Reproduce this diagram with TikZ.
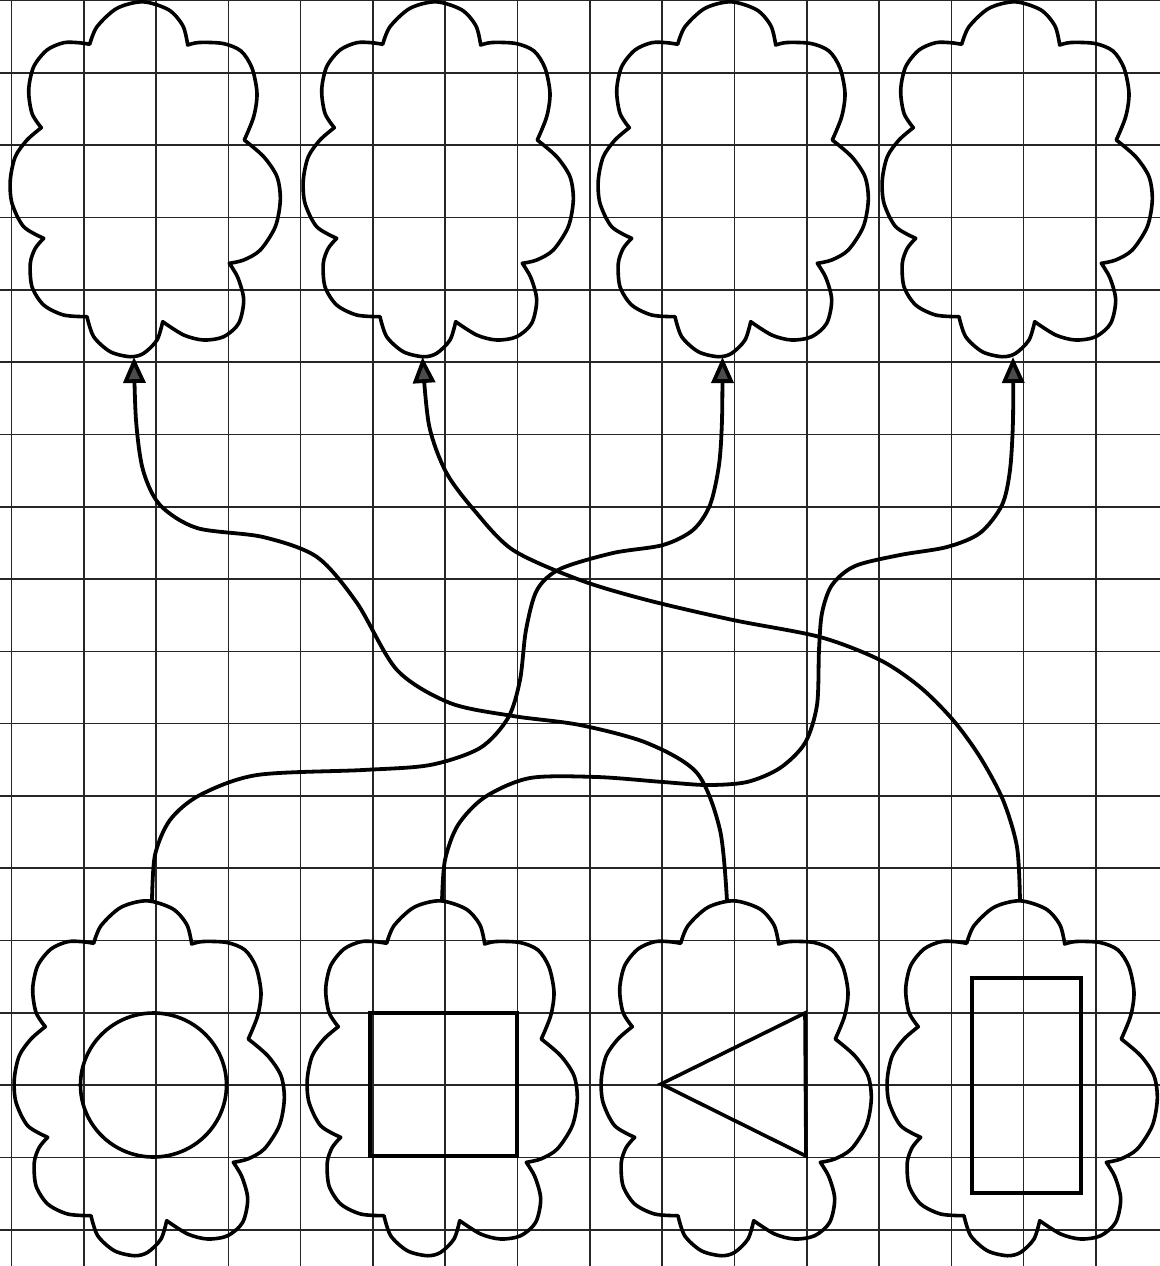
\documentclass[tikz,border=0pt]{standalone}
\usetikzlibrary{arrows.meta}
\tikzset{
  gridline/.style={line width=0.8pt, draw=black!85},
  cloudline/.style={line width=1.8pt, line join=round, draw=black},
  shapeline/.style={line width=1.8pt, line join=miter, draw=black},
  conn/.style={line width=1.9pt, draw=black, -{Triangle[length=13pt,width=11pt,fill=black!70]}},
  puffcloud/.pic={
    \draw[cloudline]
      plot[smooth] coordinates {(80.7,44.3) (88,26.7) (108,8.3) (134,1.8) (160,10) (174,26) (178.7,45)}
      -- plot[smooth] coordinates {(178.7,45) (190,42.5) (214,43.5) (232,51) (243,68) (248,93.3) (244.7,116.7) (235.3,140)}
      -- plot[smooth] coordinates {(235.3,140) (254.7,156.7) (268,176.7) (271.3,200) (266.3,226.7) (251.3,250) (234.7,260) (220.3,263.3)}
      -- plot[smooth] coordinates {(220.3,263.3) (229,278) (234.7,300) (229.7,323.3) (214.7,336.7) (194.7,340) (174.7,335) (153.7,321.7)}
      -- plot[smooth] coordinates {(153.7,321.7) (148,340) (134.7,353.3) (121.3,356.7) (101.3,351.7) (84.7,336.7) (78,316.7)}
      -- plot[smooth] coordinates {(78,316.7) (54.7,315) (34.7,305) (23,286.7) (21.3,263.3) (26.3,248.3) (34.7,238.3)}
      -- plot[smooth] coordinates {(34.7,238.3) (14.7,226.7) (3,203.3) (1.3,180) (6.3,156.7) (18,140) (32.3,127.7)}
      -- plot[smooth] coordinates {(32.3,127.7) (23,113.3) (19.7,90) (24.7,66.7) (38,50) (54.7,42.7) (69.7,42.7) (80.7,44.3)}
      -- cycle;
  }
}
\begin{document}
\begin{tikzpicture}[x=0.5pt,y=-0.5pt]
  \fill[white] (0,0) rectangle (1160,1266);
  \useasboundingbox (0,0) rectangle (1160,1266);
  % grid
  \foreach \k in {0,...,15} {
    \draw[gridline] ({11.4+72.3*\k},0) -- ({11.4+72.3*\k},1266);
  }
  \foreach \k in {0,...,17} {
    \draw[gridline] (0,{0.6+72.3*\k}) -- (1160,{0.6+72.3*\k});
  }
  % top clouds
  \pic at (9,0) {puffcloud};
  \pic at (302,0) {puffcloud};
  \pic at (597,0) {puffcloud};
  \pic at (881,0) {puffcloud};
  % bottom clouds
  \pic at (13,899) {puffcloud};
  \pic at (306,899) {puffcloud};
  \pic at (600,899) {puffcloud};
  \pic at (886,899) {puffcloud};
  % figures inside bottom clouds
  \draw[shapeline] (153.5,1085) ellipse [x radius=73, y radius=72];
  \draw[shapeline] (370,1013) rectangle (517,1156);
  \draw[shapeline] (661,1084) -- (805,1013) -- (806,1156) -- cycle;
  \draw[shapeline] (972,978) rectangle (1081,1193);
  % connector ends
  \coordinate (t1) at (134,357);
  \coordinate (t2) at (422.5,357);
  \coordinate (t3) at (722.5,357);
  \coordinate (t4) at (1013,357);
  \coordinate (b1) at (152,901);
  \coordinate (b2) at (442,901);
  \coordinate (b3) at (727,901);
  \coordinate (b4) at (1020,901);
  % connectors
  \draw[conn] plot[smooth] coordinates {(b3) (720,830) (697,773) (647,743) (580,725) (513,716) (450,703) (397,670) (357,603) (317,557) (263,537) (197,528) (160,505) (143,470) (136,420) (t1)};
  \draw[conn] plot[smooth] coordinates {(b4) (1017,847) (1003,800) (980,757) (953,720) (920,687) (880,660) (820,637) (733,620) (647,600) (580,580) (513,550) (474,510) (446,472) (429,425) (t2)};
  \draw[conn] plot[smooth] coordinates {(b1) (155,855) (170,820) (200,795) (257,775) (363,770) (430,765) (480,748) (508,718) (520,680) (526,630) (537,590) (560,569) (613,553) (663,545) (693,530) (710,505) (719,465) (722,420) (t3)};
  \draw[conn] plot[smooth] coordinates {(b2) (445,860) (458,825) (485,797) (530,778) (597,777) (663,782) (707,785) (747,782) (780,768) (805,743) (817,705) (819,650) (822,613) (832,585) (855,566) (900,555) (947,547) (980,533) (1002,505) (1010,470) (1013,420) (t4)};
\end{tikzpicture}
\end{document}
